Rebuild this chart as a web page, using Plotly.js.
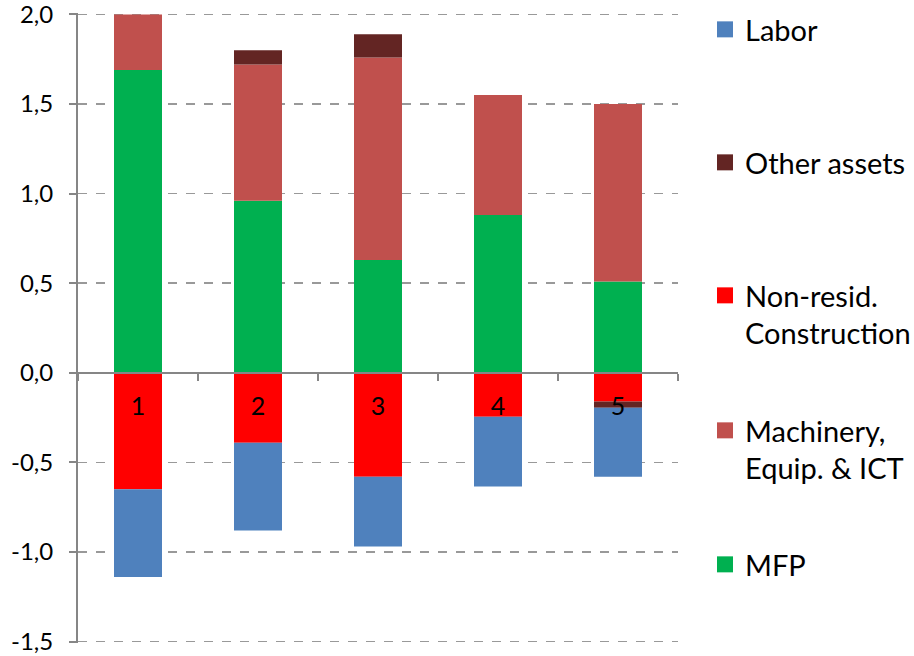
<!DOCTYPE html>
<html>
<head>
<meta charset="utf-8">
<script src="https://cdn.plot.ly/plotly-3.0.1.min.js"></script>
<style>html,body{margin:0;padding:0;background:#fff}#chart{width:914px;height:656px}</style>
</head>
<body>
<div id="chart"></div>
<script>
const categories = ['1', '2', '3', '4', '5'];
const mfp        = [1.69, 0.96, 0.63, 0.88, 0.51];
const machinery  = [0.31, 0.76, 1.13, 0.67, 0.99];
const nonResid   = [-0.65, -0.39, -0.58, -0.245, -0.16];
const otherAssets= [0, 0.08, 0.13, 0, -0.035];
const labor      = [-0.49, -0.49, -0.39, -0.39, -0.385];

const yTickValues = [-1.5, -1.0, -0.5, 0.0, 0.5, 1.0, 1.5, 2.0];
const yTickLabels = ['-1,5', '-1,0', '-0,5', '0,0', '0,5', '1,0', '1,5', '2,0'];

const seriesNames = ['MFP', 'Machinery,<br>Equip. & ICT', 'Non-resid.<br>Construction', 'Other assets', 'Labor'];
const seriesValues = [mfp, machinery, nonResid, otherAssets, labor];
const seriesColors = ['#00B050', '#C0504D', '#FF0000', '#632523', '#4F81BD'];
const legendIds = ['legend5', 'legend4', 'legend3', 'legend2', 'legend'];
const legendY = [567, 433, 298, 165, 32];

const yMin = -1.5, yMax = 2.0;
const yPad = 0.008;
const plotTop = 13, plotBottom = 643;

const FONT = 'Lato, "Noto Sans", sans-serif';

const traces = [];
seriesValues.forEach((vals, i) => {
  traces.push({
    type: 'bar', x: categories, y: vals, name: seriesNames[i],
    marker: {color: seriesColors[i]}, showlegend: false, hoverinfo: 'x+y+name'
  });
});
seriesValues.forEach((vals, i) => {
  traces.push({
    type: 'scatter', mode: 'markers', x: [null], y: [null], name: seriesNames[i],
    marker: {symbol: 'square', size: 16, color: seriesColors[i]},
    legend: legendIds[i], showlegend: true
  });
});

const layout = {
  width: 914, height: 656,
  margin: {l: 78, r: 236, t: plotTop, b: 656 - plotBottom, pad: 0, autoexpand: false},
  paper_bgcolor: '#fff', plot_bgcolor: '#fff',
  barmode: 'relative', bargap: 0.6,
  font: {family: FONT, color: '#000', size: 24},
  xaxis: {
    type: 'category', anchor: 'free', position: (0 - (yMin - yPad)) / (yMax - yMin + 2 * yPad),
    showline: true, linecolor: '#868686', linewidth: 2,
    ticks: 'outside', tickson: 'boundaries', ticklen: 7, tickwidth: 2, tickcolor: '#868686',
    showgrid: false, zeroline: false,
    tickfont: {family: FONT, size: 25, color: '#000'},
    ticklabelstandoff: 11
  },
  yaxis: {
    range: [yMin - yPad, yMax + yPad], tickmode: 'array', tickvals: yTickValues, ticktext: yTickLabels,
    showline: true, linecolor: '#868686', linewidth: 2,
    ticks: 'outside', ticklen: 7, tickwidth: 2, tickcolor: '#868686',
    showgrid: true, gridcolor: '#999999', gridwidth: 1.5, griddash: 'dash',
    zeroline: false, ticklabeloverflow: 'allow',
    tickfont: {family: FONT, size: 24, color: '#000'},
    ticklabelstandoff: 11
  }
};
legendIds.forEach((id, i) => {
  layout[id] = {
    x: 1.045, xanchor: 'left',
    y: (plotBottom - (legendY[i] - 28)) / (plotBottom - plotTop), yanchor: 'top',
    valign: 'top', bgcolor: 'rgba(0,0,0,0)',
    font: {family: FONT, size: 29, color: '#000'}
  };
});

Plotly.newPlot('chart', traces, layout, {displayModeBar: false, staticPlot: true});
</script>
</body>
</html>
